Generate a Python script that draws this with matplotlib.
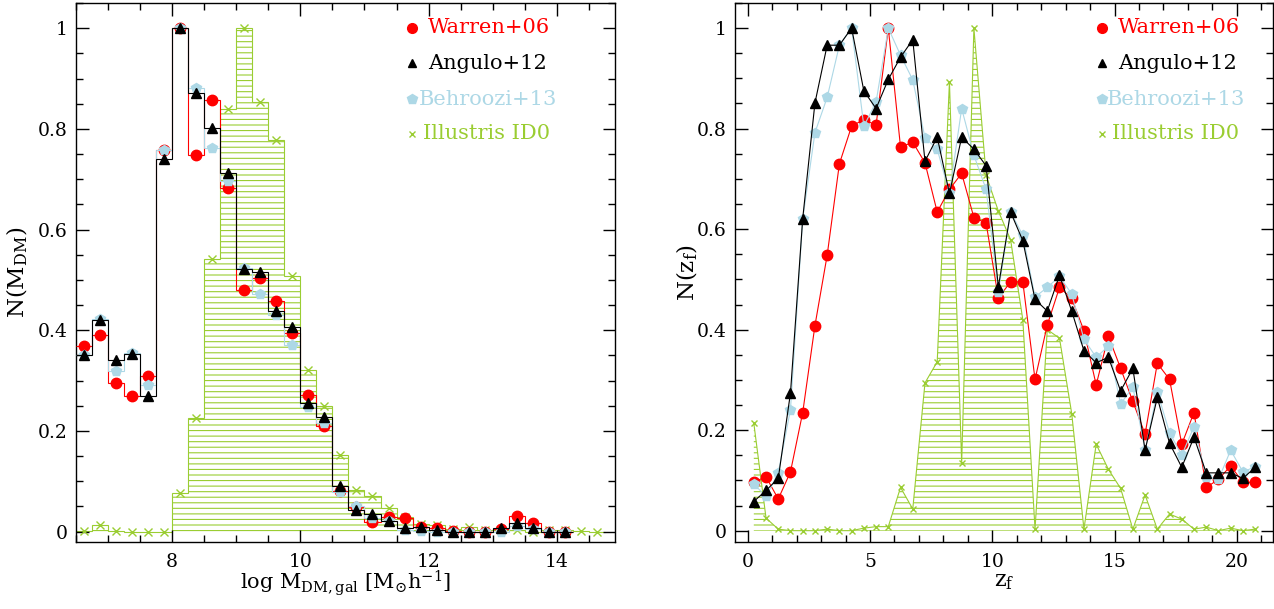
import numpy as np
import matplotlib.pyplot as plt
from matplotlib.ticker import MultipleLocator, FuncFormatter

plt.rcParams["font.family"] = ["DejaVu Serif"]
plt.rcParams["mathtext.fontset"] = "dejavuserif"
plt.rcParams["hatch.linewidth"] = 0.8

RED = "#ff0000"
BLACK = "#000000"
BLUE = "#add8e6"
GREEN = "#9acd32"

# left panel: histogram of log M_DM,gal, bins of 0.25 dex starting at 6.5
mass_edges = np.arange(6.5, 14.76, 0.25)

warren_m = [0.369, 0.390, 0.295, 0.270, 0.309, 0.758, 1.000, 0.748, 0.858, 0.682,
            0.480, 0.503, 0.459, 0.394, 0.272, 0.209, 0.080, 0.048, 0.020, 0.029,
            0.027, 0.009, 0.007, 0.001, 0.000, 0.000, 0.005, 0.032, 0.017, 0.000,
            0.000]
angulo_m = [0.351, 0.420, 0.341, 0.352, 0.270, 0.740, 1.000, 0.872, 0.801, 0.712,
            0.521, 0.515, 0.439, 0.406, 0.256, 0.228, 0.091, 0.042, 0.036, 0.022,
            0.007, 0.010, 0.003, 0.000, 0.000, 0.000, 0.007, 0.017, 0.007, 0.000,
            0.000]
behroozi_m = [0.350, 0.423, 0.320, 0.355, 0.291, 0.758, 1.000, 0.882, 0.762, 0.697,
              0.523, 0.472, 0.430, 0.371, 0.248, 0.215, 0.079, 0.050, 0.027, 0.022,
              0.004, 0.002, 0.000, 0.000, 0.000, 0.000, 0.000, 0.012, 0.005, 0.000,
              0.000]
illustris_m = [0.002, 0.013, 0.002, 0.000, 0.000, 0.000, 0.077, 0.225, 0.541, 0.839,
               1.000, 0.854, 0.778, 0.507, 0.321, 0.250, 0.152, 0.083, 0.071, 0.046,
               0.030, 0.015, 0.013, 0.005, 0.010, 0.003, 0.003, 0.003, 0.000, 0.003,
               0.003, 0.002, 0.000]

# right panel: formation redshift distribution
zf = np.arange(0.25, 21.0, 0.5)

warren_z = [0.097, 0.107, 0.063, 0.117, 0.235, 0.408, 0.548, 0.730, 0.805, 0.818,
            0.807, 1.000, 0.763, 0.773, 0.732, 0.634, 0.679, 0.711, 0.623, 0.612,
            0.463, 0.495, 0.495, 0.301, 0.409, 0.484, 0.462, 0.398, 0.290, 0.387,
            0.323, 0.257, 0.192, 0.333, 0.301, 0.172, 0.235, 0.086, 0.102, 0.129,
            0.096, 0.096]
angulo_z = [0.058, 0.080, 0.104, 0.274, 0.621, 0.851, 0.966, 0.966, 1.000, 0.875,
            0.840, 0.898, 0.942, 0.977, 0.735, 0.783, 0.671, 0.783, 0.759, 0.726,
            0.485, 0.634, 0.577, 0.460, 0.437, 0.508, 0.437, 0.358, 0.334, 0.345,
            0.278, 0.323, 0.160, 0.265, 0.174, 0.126, 0.186, 0.115, 0.115, 0.115,
            0.104, 0.126]
behroozi_z = [0.093, 0.068, 0.115, 0.241, 0.620, 0.792, 0.862, 0.966, 1.000, 0.805,
              0.853, 1.000, 0.946, 0.897, 0.782, 0.759, 0.672, 0.840, 0.747, 0.679,
              0.475, 0.634, 0.588, 0.465, 0.484, 0.506, 0.471, 0.381, 0.345, 0.367,
              0.252, 0.286, 0.160, 0.276, 0.195, 0.150, 0.207, 0.107, 0.102, 0.160,
              0.117, 0.127]
illustris_z = [0.214, 0.025, 0.003, 0.000, 0.000, 0.000, 0.003, 0.000, 0.000, 0.005,
               0.008, 0.008, 0.086, 0.043, 0.294, 0.336, 0.893, 0.135, 1.000, 0.707,
               0.636, 0.579, 0.420, 0.003, 0.400, 0.383, 0.233, 0.003, 0.172, 0.122,
               0.084, 0.003, 0.071, 0.003, 0.033, 0.023, 0.003, 0.007, 0.000, 0.005,
               0.000, 0.003]

labels = ["Warren+06", "Angulo+12", "Behroozi+13", "Illustris ID0"]


def style_axis(ax, xmajor, xminor):
    ax.xaxis.set_major_locator(MultipleLocator(xmajor))
    ax.xaxis.set_minor_locator(MultipleLocator(xminor))
    ax.yaxis.set_major_locator(MultipleLocator(0.2))
    ax.yaxis.set_minor_locator(MultipleLocator(0.05))
    ax.yaxis.set_major_formatter(FuncFormatter(lambda v, p: "%g" % round(v, 2)))
    ax.tick_params(which="both", direction="in", top=True, right=True, width=1.0)
    ax.tick_params(which="major", length=9, labelsize=13.5)
    ax.tick_params(which="minor", length=5)
    ax.tick_params(axis="x", pad=8)
    ax.tick_params(axis="y", pad=6)
    for s in ax.spines.values():
        s.set_linewidth(1.0)


def add_legend(ax, xm, xt):
    # marker + coloured text, stacked downwards
    ys = [0.954, 0.888, 0.821, 0.757]
    styles = [(RED, "o", 7), (BLACK, "^", 6), (BLUE, "p", 7), (GREEN, "x", 5)]
    for i, (lab, (c, m, ms)) in enumerate(zip(labels, styles)):
        ax.plot([xm], [ys[i]], marker=m, color=c, ms=ms, mew=1.0, ls="none",
                transform=ax.transAxes, clip_on=False)
        ax.text(xt[i], ys[i], lab, color=c, fontsize=15, va="center", ha="left",
                transform=ax.transAxes)


fig = plt.figure(figsize=(12.74, 6.09), dpi=100)
ax1 = fig.add_axes([0.0597, 0.1105, 0.4231, 0.8846])
ax2 = fig.add_axes([0.5769, 0.1105, 0.4223, 0.8846])

# ---- left panel
n = len(warren_m)
centers = mass_edges[:-1] + 0.125
ax1.stairs(illustris_m, mass_edges, fill=True, hatch="---", facecolor="none",
           edgecolor=GREEN, lw=0.8, zorder=1)
ax1.plot(centers, illustris_m, ls="none", marker="x", color=GREEN, ms=6, mew=1.0, zorder=2)

ax1.stairs(warren_m, mass_edges[:n + 1], baseline=None, color=RED, lw=0.8, zorder=3)
ax1.plot(centers[:n], warren_m, ls="none", marker="o", color=RED, ms=7.5, zorder=4)
ax1.stairs(behroozi_m, mass_edges[:n + 1], baseline=None, color=BLUE, lw=0.8, zorder=5)
ax1.plot(centers[:n], behroozi_m, ls="none", marker="p", color=BLUE, ms=7, zorder=6)
ax1.stairs(angulo_m, mass_edges[:n + 1], baseline=None, color=BLACK, lw=0.8, zorder=7)
ax1.plot(centers[:n], angulo_m, ls="none", marker="^", color=BLACK, ms=6.5, zorder=8)

ax1.set_xlim(6.5, 14.91)
ax1.set_ylim(-0.02, 1.05)
style_axis(ax1, 2, 0.5)
ax1.set_xlabel(r"$\rm log\ M_{DM,gal}\ [M_{\odot}h^{-1}]$", fontsize=15)
ax1.set_ylabel(r"$\rm N(M_{DM})$", fontsize=16.5)
ax1.xaxis.set_label_coords(0.5, -0.05)
ax1.yaxis.set_label_coords(-0.085, 0.5)
add_legend(ax1, 0.623, [0.653, 0.653, 0.636, 0.643])

# ---- right panel
ax2.fill_between(zf, 0, illustris_z, facecolor="none", edgecolor=GREEN, hatch="---",
                 linewidth=0, zorder=1)
ax2.plot(zf, illustris_z, color=GREEN, marker="x", ms=4, mew=1.0, lw=0.8, zorder=2)
ax2.plot(zf, warren_z, color=RED, marker="o", ms=7.5, lw=0.8, zorder=3)
ax2.plot(zf, behroozi_z, color=BLUE, marker="p", ms=7, lw=0.8, zorder=4)
ax2.plot(zf, angulo_z, color=BLACK, marker="^", ms=6.5, lw=0.8, zorder=5)

ax2.set_xlim(-0.52, 21.48)
ax2.set_ylim(-0.022, 1.05)
style_axis(ax2, 5, 1)
ax2.set_xlabel(r"$\rm z_f$", fontsize=16)
ax2.set_ylabel(r"$\rm N(z_f)$", fontsize=16.5)
ax2.xaxis.set_label_coords(0.5, -0.052)
ax2.yaxis.set_label_coords(-0.065, 0.5)
add_legend(ax2, 0.682, [0.712, 0.712, 0.691, 0.700])

fig.savefig("out.png", dpi=100)
